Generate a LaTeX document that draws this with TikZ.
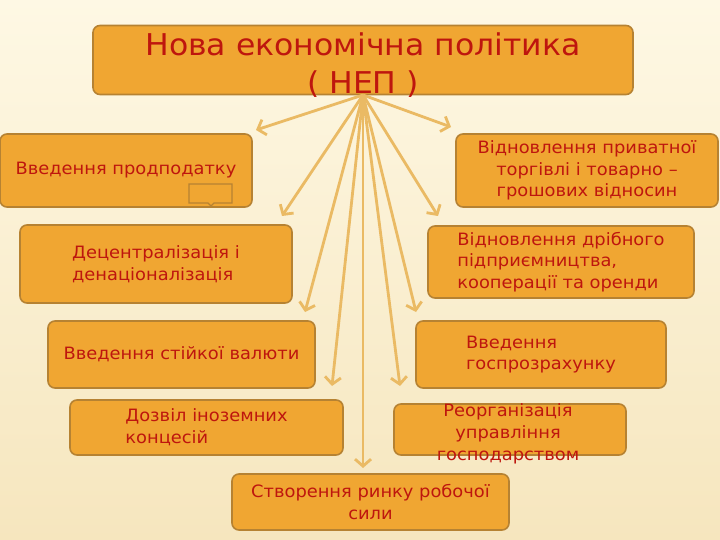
\documentclass[tikz,border=0pt]{standalone}
\usepackage{fontspec}
\setmainfont{DejaVu Sans}[FakeStretch=1.05]
\usetikzlibrary{arrows.meta}
\definecolor{boxfill}{RGB}{240,166,50}
\definecolor{boxline}{RGB}{182,130,50}
\definecolor{txtred}{RGB}{190,22,14}
\definecolor{arrcol}{RGB}{234,186,100}
\definecolor{bgtop}{RGB}{254,248,228}
\definecolor{bgbot}{RGB}{246,230,190}
\tikzset{
    box/.style={draw=boxline,fill=boxfill,line width=1.6pt,rounded corners=7pt,
        inner sep=0pt,text=txtred,font=\fontsize{17}{21.7}\selectfont},
    txt/.style={inner sep=0pt,text=txtred,font=\fontsize{17}{21.7}\selectfont},
    titletxt/.style={txt,font=\fontsize{30}{38}\selectfont},
    arr/.style={draw=arrcol,line width=2.8pt,-{Straight Barb[length=7pt,width=16pt]}}
}
\begin{document}
\begin{tikzpicture}[x=1pt,y=-1pt]
  % background
  \fill[top color=bgtop,bottom color=bgbot] (0,0) rectangle (720,540);
  \useasboundingbox (0,0) rectangle (720,540);
  % title
  \node[box,minimum width=540pt,minimum height=69pt] (nep) at (363,60) {};
  \node[titletxt,align=center] (neptxt) at (363,65)
    {Нова економічна політика\\( НЕП )};
  % left column
  \node[box,minimum width=252pt,minimum height=73pt] (prod) at (126,170.5)
    {Введення продподатку};
  \node[box,minimum width=272pt,minimum height=78pt,align=left] (decent) at (156,264)
    {Децентралізація і\\денаціоналізація};
  \node[box,minimum width=267pt,minimum height=67pt] (valuta) at (181.5,354.5)
    {Введення стійкої валюти};
  \node[box,minimum width=273pt,minimum height=55pt,align=left] (konces) at (206.5,427.5)
    {Дозвіл іноземних\\концесій};
  % right column
  \node[box,minimum width=262pt,minimum height=73pt,align=center] (torg) at (587,170.5)
    {Відновлення приватної\\торгівлі і товарно –\\грошових відносин};
  \node[box,minimum width=266pt,minimum height=72pt,align=left] (pidpr) at (561,262)
    {Відновлення дрібного\\підприємництва,\\кооперації та оренди};
  \node[box,minimum width=250pt,minimum height=67pt,align=left] (gosp) at (541,354.5)
    {Введення\\госпрозрахунку};
  \node[box,minimum width=232pt,minimum height=51pt] (reorg) at (510,429.5) {};
  \node[txt,align=center] (reorgtxt) at (508,434)
    {Реорганізація\\управління\\господарством};
  % bottom
  \node[box,minimum width=277pt,minimum height=56pt,align=center] (rynok) at (370.5,502)
    {Створення ринку робочої\\сили};
  % small callout in the first box
  \draw[draw=boxline,fill=boxfill,line width=1.3pt]
    (189,184) -- (232,184) -- (232,203) -- (214,203) -- (211,206) -- (208,203)
    -- (189,203) -- cycle;
  % arrow ends
  \coordinate (e1) at (256,130);
  \coordinate (e2) at (451,127);
  \coordinate (e3) at (282,216);
  \coordinate (e4) at (438,216);
  \coordinate (e5) at (305,312);
  \coordinate (e6) at (416,312);
  \coordinate (e7) at (332,386);
  \coordinate (e8) at (400,386);
  \coordinate (e9) at (363,468);
  \coordinate (hub) at (363,95);
  \draw[arr] (hub) -- (e1);
  \draw[arr] (hub) -- (e2);
  \draw[arr] (hub) -- (e3);
  \draw[arr] (hub) -- (e4);
  \draw[arr] (hub) -- (e5);
  \draw[arr] (hub) -- (e6);
  \draw[arr] (hub) -- (e7);
  \draw[arr] (hub) -- (e8);
  \draw[arr] (hub) -- (e9);
\end{tikzpicture}
\end{document}
